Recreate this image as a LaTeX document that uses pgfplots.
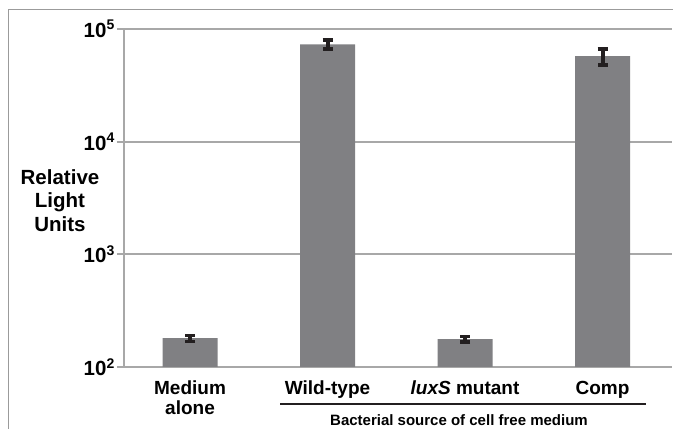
\documentclass[border=0pt]{standalone}
\usepackage{pgfplots}
\pgfplotsset{compat=1.18}
\usepackage{fontspec}
\setmainfont{Liberation Sans}
\definecolor{bargray}{RGB}{128,128,131}
\definecolor{gridgray}{RGB}{168,168,168}
\definecolor{errblack}{RGB}{35,31,32}
\definecolor{framegray}{RGB}{155,155,155}
\begin{document}
\begin{tikzpicture}[x=1pt,y=1pt]
\useasboundingbox (0,0) rectangle (673,429);
\draw[framegray, line width=1pt] (8,0) -- (8,419) -- (673,419);
\begin{axis}[
  at={(124pt,62pt)}, anchor=south west,
  scale only axis, width=548pt, height=338pt,
  ymode=log, ymin=100, ymax=100000, log origin y=infty,
  xmin=-0.48, xmax=3.505,
  axis lines*=left,
  axis line style={gridgray, line width=2pt},
  ymajorgrids, grid style={gridgray, line width=2pt},
  yminorticks=false,
  ytick={100,1000,10000,100000},
  yticklabels={10\textsuperscript{\fontsize{14}{14}\selectfont 2},10\textsuperscript{\fontsize{14}{14}\selectfont 3},10\textsuperscript{\fontsize{14}{14}\selectfont 4},10\textsuperscript{\fontsize{14}{14}\selectfont 5}},
  yticklabel style={font=\bfseries\fontsize{20.5}{20}\selectfont, inner sep=2pt},
  ytick style={gridgray, line width=2pt},
  tick align=outside, major tick length=7pt,
  xtick={0,1,2,3},
  xticklabels={{Medium\\alone},{Wild-type},{\textit{luxS} mutant},{Comp}},
  xticklabel style={align=center, font=\bfseries\fontsize{19}{20}\selectfont, inner sep=0pt, yshift=-7pt},
  xtick style={draw=none},
  clip=false,
]
\addplot[ybar, bar width=55pt, fill=bargray, draw=none,
  error bars/.cd, y dir=both, y explicit,
  error bar style={line width=4pt, color=errblack},
  error mark options={rotate=90, mark size=5pt, line width=3.5pt, color=errblack}]
coordinates {
  (0,180) += (0,11) -= (0,12)
  (1,73000) += (0,6800) -= (0,6600)
  (2,177) += (0,10) -= (0,10)
  (3,57300) += (0,9100) -= (0,9400)
};
\end{axis}
\node[font=\bfseries\fontsize{20.5}{20}\selectfont, anchor=base] at (60,244) {Relative};
\node[font=\bfseries\fontsize{20.5}{20}\selectfont, anchor=base] at (60,221.5) {Light};
\node[font=\bfseries\fontsize{20.5}{20}\selectfont, anchor=base] at (60,197) {Units};
\draw[errblack, line width=2.5pt] (280,25) -- (646,25);
\node[font=\bfseries\fontsize{15}{15}\selectfont, anchor=base] at (459,3) {Bacterial source of cell free medium};
\end{tikzpicture}
\end{document}
